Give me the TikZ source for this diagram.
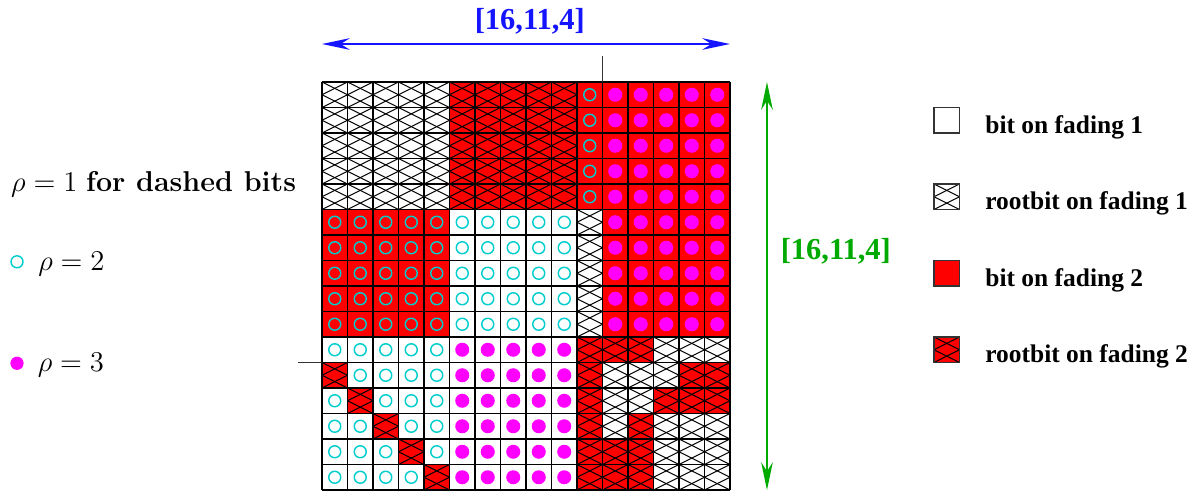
\RequirePackage{fix-cm}
\documentclass[tikz,border=0pt]{standalone}
\usepackage{fontspec}
\newfontfamily\timesfont{Liberation Serif}
\usetikzlibrary{arrows.meta}
\definecolor{ringcyan}{RGB}{0,205,205}
\definecolor{dotmagenta}{RGB}{255,0,255}
\definecolor{arrowblue}{RGB}{20,20,255}
\definecolor{arrowgreen}{RGB}{0,170,0}

\begin{document}
\begin{tikzpicture}[scale=0.5,
  gridline/.style={line width=0.8pt},
  hatchline/.style={line width=0.55pt},
  ring/.style={draw=ringcyan,line width=0.8pt},
  dot/.style={fill=dotmagenta},
  tick/.style={line width=0.6pt,black!80},
  legendbox/.style={line width=0.6pt,black!80},
  codearrow/.style={line width=1pt,{Stealth[length=15.5pt,width=6.5pt]}-{Stealth[length=15.5pt,width=6.5pt]}},
  codelabel/.style={font=\timesfont\bfseries\fontsize{17}{20}\selectfont},
  legendtext/.style={anchor=base west,inner sep=0pt,font=\timesfont\bfseries\fontsize{14.2}{16}\selectfont},
  rhotext/.style={anchor=base west,inner sep=0pt,font=\fontsize{16}{19}\selectfont}]

\useasboundingbox (-12.627,0) rectangle (34.431,19.216);

% bits on fading 2
\fill[red] (5,11) rectangle (16,16);
\fill[red] (0,6) rectangle (5,11);
\fill[red] (11,6) rectangle (16,11);
\fill[red] (10,0) rectangle (11,6);
\fill[red] (11,5) rectangle (13,6);
\fill[red] (14,4) rectangle (16,5);
\fill[red] (13,3) rectangle (16,4);
\fill[red] (12,2) rectangle (13,3);
\fill[red] (11,0) rectangle (13,2);
\fill[red] (0,4) rectangle (1,5);
\fill[red] (1,3) rectangle (2,4);
\fill[red] (2,2) rectangle (3,3);
\fill[red] (3,1) rectangle (4,2);
\fill[red] (4,0) rectangle (5,1);
\fill[red] (24,8) rectangle (25,9);
\fill[red] (24,5) rectangle (25,6);

% rootbits
\begin{scope}
\clip (0,11) rectangle (10,16) (10,6) rectangle (11,11) (10,0) rectangle (16,6)
  (0,4) rectangle (1,5) (1,3) rectangle (2,4) (2,2) rectangle (3,3)
  (3,1) rectangle (4,2) (4,0) rectangle (5,1)
  (24,11) rectangle (25,12) (24,5) rectangle (25,6);
\foreach \k in {-50,...,32} \draw[hatchline] (0,\k/2) -- (25,\k/2+12.5);
\foreach \k in {0,...,58} \draw[hatchline] (0,\k/2) -- (25,\k/2-12.5);
\end{scope}

% rho = 2
\foreach \y in {11,...,15} \draw[ring] (10.5,\y+.5) circle (0.235);
\foreach \x in {0,...,9} \foreach \y in {6,...,10} \draw[ring] (\x+.5,\y+.5) circle (0.235);
\foreach \x in {0,...,4} \foreach \y in {0,...,5} {
  \ifnum\numexpr\x+\y\relax=4 \else \draw[ring] (\x+.5,\y+.5) circle (0.235); \fi
}

% rho = 3
\foreach \x in {11,...,15} \foreach \y in {6,...,15} \fill[dot] (\x+.5,\y+.5) circle (0.275);
\foreach \x in {5,...,9} \foreach \y in {0,...,5} \fill[dot] (\x+.5,\y+.5) circle (0.275);

\draw[gridline] (0,0) grid (16,16);

\coordinate (colsplit) at (11,16);
\coordinate (colsplittop) at (11,17);
\draw[tick] (colsplit) -- (colsplittop);
\coordinate (rowsplit) at (0,5);
\coordinate (rowsplitleft) at (-0.95,5);
\draw[tick] (rowsplit) -- (rowsplitleft);

% code lengths
\coordinate (hleft) at (0,17.49);
\coordinate (hright) at (16,17.49);
\draw[codearrow,arrowblue] (hleft) -- (hright);
\node[codelabel,text=arrowblue] (hcode) at (8.15,18.37) {[16,11,4]};

\coordinate (vtop) at (17.45,16);
\coordinate (vbottom) at (17.45,0);
\draw[codearrow,arrowgreen] (vtop) -- (vbottom);
\node[codelabel,text=arrowgreen] (vcode) at (20.15,9.35) {[16,11,4]};

% left labels
\node[rhotext] (rhoone) at (-12.2,11.69) {$\rho=1$ \textbf{for dashed bits}};
\draw[ring] (-11.96,8.95) circle (0.235);
\node[rhotext] (rhotwo) at (-11.14,8.6) {$\rho=2$};
\fill[dot] (-11.96,4.97) circle (0.26);
\node[rhotext] (rhothree) at (-11.16,4.64) {$\rho=3$};

% legend
\draw[legendbox] (24,14) rectangle (25,15);
\draw[legendbox] (24,11) rectangle (25,12);
\draw[legendbox] (24,8) rectangle (25,9);
\draw[legendbox] (24,5) rectangle (25,6);
\node[legendtext] (bitone) at (26,14) {bit on fading 1};
\node[legendtext] (rootone) at (26,11) {rootbit on fading 1};
\node[legendtext] (bittwo) at (26,8) {bit on fading 2};
\node[legendtext] (roottwo) at (26,5) {rootbit on fading 2};
\end{tikzpicture}
\end{document}
